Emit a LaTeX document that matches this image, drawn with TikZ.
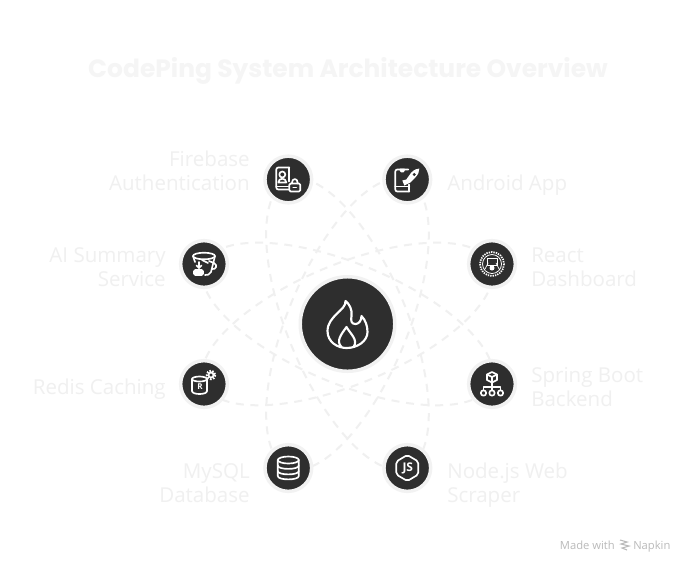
\documentclass[tikz,border=0pt]{standalone}
\usepackage{fontspec}
\newfontfamily\titlefont{Poppins}
\newfontfamily\labelfont{Open Sans}
\newfontfamily\markfont{Open Sans}
\begin{document}
\begin{tikzpicture}[x = 0.75pt, y = -0.75pt]
\tikzstyle{orbitStyle} = [draw = black!6, line width = 1.5pt, dash pattern = on 6pt off 5pt]
\tikzstyle{ringStyle} = [shape = circle, minimum size = 35pt, inner sep = 0pt, draw = black!5, line width = 2.6pt, fill = black!82]
\tikzstyle{hubStyle} = [shape = circle, minimum size = 70.9pt, inner sep = 0pt, draw = black!5, line width = 2.6pt, fill = black!82]
\tikzstyle{iconStyle} = [draw = white, line width = 1.25pt, line join = round, line cap = round]
\tikzstyle{labelStyle} = [text = black!6, font = \labelfont\fontsize{15.4}{18}\selectfont, inner sep = 0pt]
\tikzstyle{markStyle} = [font = \markfont\fontsize{8.4}{10}\selectfont, text = black!27, inner sep = 0pt]
\useasboundingbox (0, 0) rectangle (684, 562);
\fill[white] (0, 0) rectangle (684, 562);
\coordinate (vCenter) at (347.5, 324);
\draw[orbitStyle, rotate = 22.5] (vCenter) ellipse [x radius = 155.5, y radius = 60];
\draw[orbitStyle, rotate = 67.5] (vCenter) ellipse [x radius = 155.5, y radius = 60];
\draw[orbitStyle, rotate = 112.5] (vCenter) ellipse [x radius = 155.5, y radius = 60];
\draw[orbitStyle, rotate = 157.5] (vCenter) ellipse [x radius = 155.5, y radius = 60];
\node[hubStyle] (vHub) at (vCenter) {};
\node[ringStyle] (vAuth) at (288.3, 179.5) {};
\node[ringStyle] (vAndroid) at (407.3, 179.5) {};
\node[ringStyle] (vSummary) at (204, 264) {};
\node[ringStyle] (vReact) at (492, 264) {};
\node[ringStyle] (vRedis) at (204, 384) {};
\node[ringStyle] (vSpring) at (492, 384) {};
\node[ringStyle] (vMysql) at (288.3, 468) {};
\node[ringStyle] (vScraper) at (407.3, 468) {};
\node[font = \titlefont\bfseries\fontsize{18.7}{24}\selectfont, text = black!4, inner sep = 0pt] (vTitle) at (348, 71) {CodePing System Architecture Overview};
\node[labelStyle, anchor = east, align = right] (vAuthText) at (250, 171) {Firebase\\Authentication};
\node[labelStyle, anchor = east, align = right] (vSummaryText) at (166, 267) {AI Summary\\Service};
\node[labelStyle, anchor = east, align = right] (vRedisText) at (166, 389) {Redis Caching};
\node[labelStyle, anchor = east, align = right] (vMysqlText) at (250, 483) {MySQL\\Database};
\node[labelStyle, anchor = west, align = left] (vAndroidText) at (447, 185) {Android App};
\node[labelStyle, anchor = west, align = left] (vReactText) at (531, 267) {React\\Dashboard};
\node[labelStyle, anchor = west, align = left] (vSpringText) at (531, 387) {Spring Boot\\Backend};
\node[labelStyle, anchor = west, align = left] (vScraperText) at (447, 485) {Node.js Web\\Scraper};
\node[markStyle, anchor = base east] (vMade) at (615, 549) {Made with};
\node[markStyle, anchor = base west] (vNapkin) at (633, 549) {Napkin};
\draw[draw = black!27, line width = 0.8pt] (620, 540) -- (627, 542) -- (621, 544) -- (629, 546) -- (622, 548) -- (627, 550);
\begin{scope}[shift = {(vHub)}, iconStyle, line width = 1.6pt]
\draw (-2, -23) .. controls (-1, -14) and (-20, -8) .. (-20, 7) .. controls (-20, 18) and (-10, 24) .. (-1, 24) .. controls (10, 24) and (20, 17) .. (20, 8) .. controls (20, 2) and (18, -4) .. (14, -8) .. controls (14, -3) and (11, 0) .. (8, 0) .. controls (4, 0) and (3, -3) .. (4, -8) .. controls (5, -14) and (2, -20) .. (-2, -23) -- cycle;
\draw (-6, 23) .. controls (-12, 17) and (-6, 10) .. (-1, 3) .. controls (3, 10) and (11, 16) .. (6, 23);
\end{scope}
\begin{scope}[shift = {(vAuth)}, iconStyle]
\draw[rounded corners = 1.5pt] (1, -12) -- (-12, -12) -- (-12, 10) -- (0, 10);
\draw (1, -12) -- (1, 2);
\draw (-12, 7) -- (0, 7);
\draw (-6, -5) circle (3);
\draw (-10, 3) .. controls (-10, -2) and (-2, -2) .. (-2, 3) -- cycle;
\draw[rounded corners = 1pt] (1, 4) rectangle (12, 12);
\draw (3.5, 4) .. controls (3.5, -2) and (9.5, -2) .. (9.5, 4);
\draw (5, 8) -- (8, 8);
\end{scope}
\begin{scope}[shift = {(vAndroid)}, iconStyle]
\draw[rounded corners = 1.5pt] (2, 12) -- (-12, 12) -- (-12, -10) -- (1, -10);
\draw (2, 12) -- (2, 5);
\draw (-12, 7) -- (2, 7);
\draw (-7, -10) -- (-3, -10) -- (-4, -8) -- (-6, -8) -- cycle;
\fill[white] (-3, 6) -- (-5, 1) -- (-1, 0) -- (4, -7) .. controls (7, -10) and (10, -11) .. (12, -11) .. controls (12, -8) and (11, -5) .. (8, -2) -- (3, 3) -- cycle;
\fill[black!82] (7, -5) circle (1.6);
\end{scope}
\begin{scope}[shift = {(vSummary)}, iconStyle]
\draw (0, -8) ellipse [x radius = 11, y radius = 3.3];
\draw (-11, -8) -- (-9, -2);
\draw (11, -8) -- (7, 8) .. controls (6, 11) and (3, 11) .. (1, 11);
\draw (5, -3) -- (10, -1) .. controls (14, 1) and (12, 6) .. (8, 5);
\draw (-2, -4) -- (4, -1);
\draw (-5, -2) -- (-5, 4);
\draw (-7.5, 1.5) -- (-5, 4) -- (-2.5, 1.5);
\draw[rounded corners = 1pt, fill = white] (-10, 6) rectangle (-1, 11);
\end{scope}
\begin{scope}[shift = {(vRedis)}, iconStyle]
\draw (-4.5, -5) ellipse [x radius = 7.5, y radius = 2.5];
\draw (-12, -5) -- (-12, 7) .. controls (-12, 11) and (3, 11) .. (3, 7) -- (3, -5);
\node[text = white, inner sep = 0pt, font = \markfont\bfseries\fontsize{6}{7}\selectfont] (vRedisMark) at (-4, 3) {R};
\draw[dash pattern = on 1.2pt off 1pt, line width = 1.6pt, line cap = butt] (7, -9) circle (4.2);
\draw (7, -9) circle (2.5);
\end{scope}
\begin{scope}[shift = {(vReact)}, iconStyle]
\draw[dash pattern = on 1pt off 0.8pt, line width = 1.3pt, line cap = butt] (0, 0) circle (12);
\draw[line width = 0.6pt] (0, 0) circle (9.5);
\draw[line width = 0.5pt] (-5, -6) rectangle (5, 1);
\fill[white] (0, 4) circle (2.5);
\draw[line width = 0.5pt] (-7, 5) -- (-4, -1);
\draw[line width = 0.5pt] (7, 5) -- (4, -1);
\end{scope}
\begin{scope}[shift = {(vSpring)}, iconStyle]
\draw (0, -12) -- (5, -9.5) -- (5, -4) -- (0, -1.5) -- (-5, -4) -- (-5, -9.5) -- cycle;
\draw (-5, -9.5) -- (0, -7) -- (5, -9.5);
\draw (0, -7) -- (0, 6);
\draw (-8.5, 6) -- (-8.5, 3) -- (8.5, 3) -- (8.5, 6);
\draw (-8.5, 9) circle (2.7);
\draw (0, 9) circle (2.7);
\draw (8.5, 9) circle (2.7);
\end{scope}
\begin{scope}[shift = {(vMysql)}, iconStyle]
\draw (0, -8) ellipse [x radius = 10.5, y radius = 3.5];
\draw (-10.5, -8) -- (-10.5, 8) .. controls (-10.5, 12.5) and (10.5, 12.5) .. (10.5, 8) -- (10.5, -8);
\draw (-10.5, -2.5) .. controls (-10.5, 2) and (10.5, 2) .. (10.5, -2.5);
\draw (-10.5, 3) .. controls (-10.5, 7.5) and (10.5, 7.5) .. (10.5, 3);
\end{scope}
\begin{scope}[shift = {(vScraper)}, iconStyle]
\draw[rounded corners = 1.5pt] (0, -13) -- (11, -6.5) -- (11, 6.5) -- (0, 13) -- (-11, 6.5) -- (-11, -6.5) -- cycle;
\node[text = white, inner sep = 0pt, font = \markfont\bfseries\fontsize{9}{10}\selectfont] (vScraperMark) at (0.5, 0) {JS};
\end{scope}
\end{tikzpicture}
\end{document}
